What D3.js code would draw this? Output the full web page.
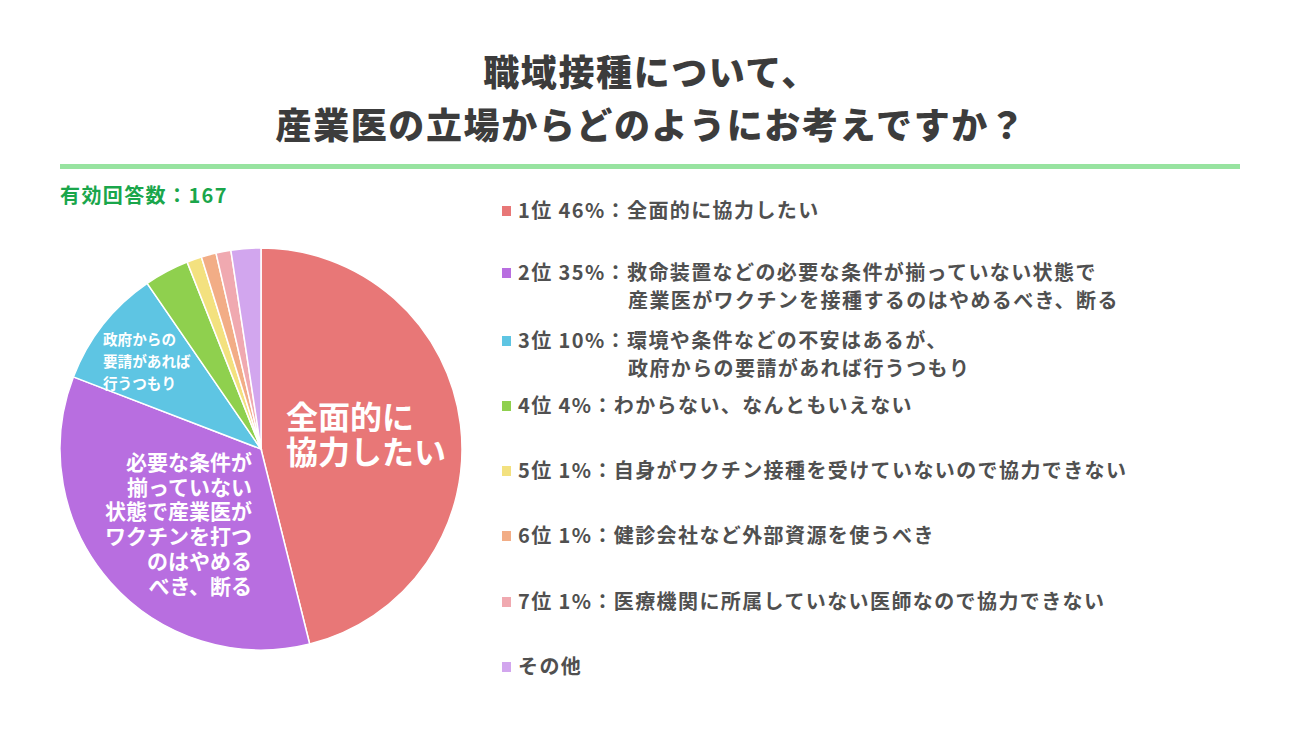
<!DOCTYPE html>
<html>
<head>
<meta charset="utf-8">
<script src="https://cdn.jsdelivr.net/npm/d3@7"></script>
<style>
  body { margin: 0; background: #fff; }
  text { font-family: "Noto Sans CJK JP", "Noto Sans", sans-serif; }
</style>
</head>
<body>
<svg id="chart" width="1300" height="731"></svg>
<script>
// answers (counts out of 167), in pie order clockwise from 12 o'clock
const answers = ['全面的に協力したい', '必要な条件が揃っていない', '政府からの要請', 'わからない', '自身が未接種', '外部資源', '医療機関に非所属', 'その他'];
const counts = [77, 58, 16, 6, 2, 2, 2, 4];
const colours = ['#e87777', '#b86ee0', '#5ec5e3', '#8fd04e', '#f3e17f', '#f2ad86', '#f0a9b0', '#d2a6ee'];

// legend text
const ranks = ['1位 46%：', '2位 35%：', '3位 10%：', '4位 4%：', '5位 1%：', '6位 1%：', '7位 1%：', ''];
const legendLines = [
  ['全面的に協力したい'],
  ['救命装置などの必要な条件が揃っていない状態で', '産業医がワクチンを接種するのはやめるべき、断る'],
  ['環境や条件などの不安はあるが、', '政府からの要請があれば行うつもり'],
  ['わからない、なんともいえない'],
  ['自身がワクチン接種を受けていないので協力できない'],
  ['健診会社など外部資源を使うべき'],
  ['医療機関に所属していない医師なので協力できない'],
  ['その他']
];

// in-slice labels
const sliceLabels = [
  ['全面的に', '協力したい'],
  ['必要な条件が', '揃っていない', '状態で産業医が', 'ワクチンを打つ', 'のはやめる', 'べき、断る'],
  ['政府からの', '要請があれば', '行うつもり']
];

const title = ['職域接種について、', '産業医の立場からどのようにお考えですか？'];
const total = 167;

const svg = d3.select('#chart');

// title
svg.selectAll('.title').data(title).join('text')
  .attr('class', 'title')
  .attr('x', 651)
  .attr('y', (d, i) => 86 + i * 53)
  .attr('text-anchor', 'middle')
  .attr('font-size', 36)
  .attr('letter-spacing', 1.6)
  .attr('font-weight', 900)
  .attr('fill', '#3c3c3c')
  .text(d => d);

// green rule
svg.append('rect')
  .attr('x', 60).attr('y', 164)
  .attr('width', 1180).attr('height', 5)
  .attr('fill', '#97e3a0');

svg.append('text')
  .attr('x', 60).attr('y', 203)
  .attr('font-size', 20)
  .attr('letter-spacing', 1.4)
  .attr('font-weight', 700)
  .attr('fill', '#1aa64b')
  .text(`有効回答数：${total}`);

// pie
const cx = 261, cy = 449, radius = 201;
const pie = d3.pie().sort(null).value(d => d);
const arc = d3.arc().innerRadius(0).outerRadius(radius);
const arcs = pie(counts);

const pieG = svg.append('g').attr('transform', `translate(${cx},${cy})`);
pieG.selectAll('path').data(arcs).join('path')
  .attr('d', arc)
  .attr('fill', (d, i) => colours[i])
  .attr('stroke', '#fff')
  .attr('stroke-width', 1.5);

// slice labels: position, anchor and size per label
const labelLayout = [
  { x: 25, y: -20, anchor: 'start', size: 32, lh: 35 },
  { x: -9, y: 21, anchor: 'end', size: 21, lh: 24.7 },
  { x: -158, y: -104, anchor: 'start', size: 14.6, lh: 22 }
];
sliceLabels.forEach((lines, i) => {
  const L = labelLayout[i];
  pieG.append('text')
    .attr('text-anchor', L.anchor)
    .attr('font-size', L.size)
    .attr('font-weight', 700)
    .attr('fill', '#fff')
    .selectAll('tspan').data(lines).join('tspan')
      .attr('x', L.x)
      .attr('y', (d, j) => L.y + j * L.lh)
      .text(d => d);
});

// legend
const legendY = [210, 272, 340, 405, 470, 535, 601, 666];
const legend = svg.append('g');
legendLines.forEach((lines, i) => {
  const g = legend.append('g').attr('transform', `translate(502,${legendY[i]})`);
  g.append('rect')
    .attr('x', 0).attr('y', -4)
    .attr('width', 9).attr('height', 10)
    .attr('fill', colours[i]);
  g.append('text')
    .attr('x', 16).attr('y', 8)
    .attr('font-size', 20)
    .attr('letter-spacing', 1.4)
    .attr('font-weight', 700)
    .attr('fill', '#505050')
    .text(ranks[i] + lines[0]);
  if (lines[1]) {
    g.append('text')
      .attr('x', 126).attr('y', 36)
      .attr('font-size', 20)
      .attr('letter-spacing', 1.4)
      .attr('font-weight', 700)
      .attr('fill', '#505050')
      .text(lines[1]);
  }
});
</script>
</body>
</html>
